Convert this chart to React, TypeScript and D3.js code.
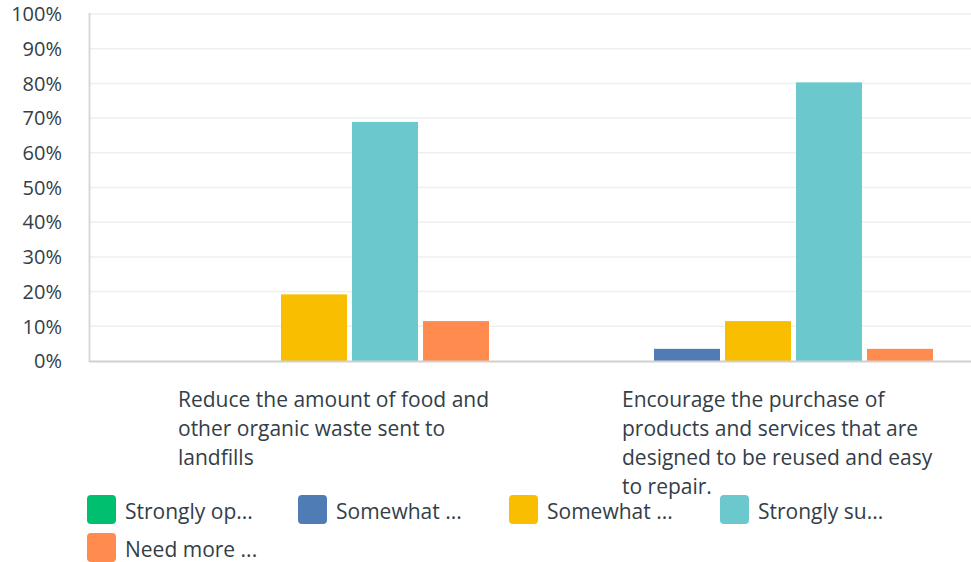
import React from "react";
import * as d3 from "d3";

const categories = ["cat1", "cat2"];
const categoryLines = [
  ["Reduce the amount of food and", "other organic waste sent to", "landfills"],
  ["Encourage the purchase of", "products and services that are", "designed to be reused and easy", "to repair."],
];
const seriesNames = ["Strongly op...", "Somewhat ...", "Somewhat ...", "Strongly su...", "Need more ..."];
const seriesKeys = ["s0", "s1", "s2", "s3", "s4"];
const seriesColors = ["#00bf6f", "#507cb6", "#f9be00", "#6bc8cd", "#ff8b4f"];
const valuesCat1 = [0, 0, 19.2, 68.9, 11.5];
const valuesCat2 = [0, 3.5, 11.5, 80.3, 3.5];
const yTicks = [0, 10, 20, 30, 40, 50, 60, 70, 80, 90, 100];

const W = 971;
const H = 562;
const TEXT = "#333e48";
const FONT = "'Open Sans', sans-serif";

export default function App() {
  const values = [valuesCat1, valuesCat2];
  const y = d3.scaleLinear().domain([0, 100]).range([361, 14]);
  const x0 = d3.scaleBand<string>().domain(categories).range([92, 980]).paddingInner(0).paddingOuter(0);
  const x1 = d3
    .scaleBand<string>()
    .domain(seriesKeys)
    .range([0, x0.bandwidth()])
    .paddingInner(0.0704)
    .paddingOuter(0.662);

  return (
    <svg
      width={W}
      height={H}
      style={{ position: "absolute", left: 0, top: 0, display: "block", background: "#fff" }}
    >
      {yTicks.map((t) =>
        t === 0 ? null : (
          <line key={"g" + t} x1={89} x2={W} y1={y(t)} y2={y(t)} stroke="#efefef" strokeWidth={1.5} />
        )
      )}
      {yTicks.map((t) => (
        <text
          key={"yl" + t}
          x={62}
          y={y(t)}
          dy="0.36em"
          textAnchor="end"
          fontFamily={FONT}
          fontSize={20}
          fill={TEXT}
        >
          {t + "%"}
        </text>
      ))}
      {categories.map((c, ci) => (
        <g key={c} transform={`translate(${x0(c)},0)`}>
          {seriesKeys.map((k, si) =>
            values[ci][si] > 0 ? (
              <rect
                key={k}
                x={x1(k)}
                y={y(values[ci][si])}
                width={x1.bandwidth()}
                height={y(0) - y(values[ci][si])}
                fill={seriesColors[si]}
              />
            ) : null
          )}
        </g>
      ))}
      <line x1={89.5} x2={89.5} y1={13} y2={362} stroke="#d9d9d9" strokeWidth={2} />
      <line x1={89} x2={W} y1={361.5} y2={361.5} stroke="#d0d0d0" strokeWidth={2} />
      {categories.map((c, ci) => (
        <text key={"cl" + c} fontFamily={FONT} fontSize={21} fill={TEXT}>
          {categoryLines[ci].map((ln, li) => (
            <tspan key={li} x={(x0(c) as number) + x0.bandwidth() / 2 - 136} y={407 + li * 29}>
              {ln}
            </tspan>
          ))}
        </text>
      ))}
      {seriesNames.map((n, i) => {
        const col = i % 4;
        const row = Math.floor(i / 4);
        const lx = 87 + col * 211;
        const ly = 495 + row * 38;
        return (
          <g key={"lg" + i} transform={`translate(${lx},${ly})`}>
            <rect x={0} y={0} width={29} height={29} rx={4} fill={seriesColors[i]} />
            <text x={38} y={24} fontFamily={FONT} fontSize={21} fill={TEXT}>
              {n}
            </text>
          </g>
        );
      })}
    </svg>
  );
}
